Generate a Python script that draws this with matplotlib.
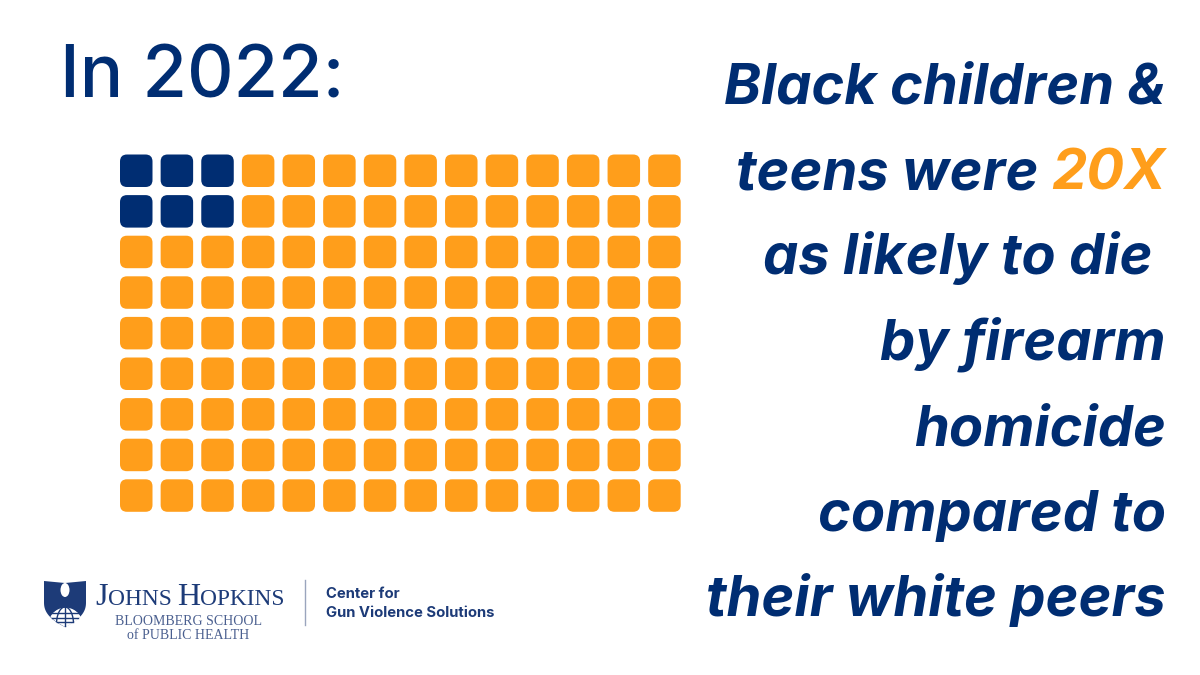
import matplotlib
matplotlib.use("Agg")
import matplotlib.pyplot as plt
import numpy as np
from matplotlib.patches import FancyBboxPatch, Polygon, Ellipse
from matplotlib.path import Path

NAVY = "#002d72"
LOGO = "#1d3b78"
SUB = "#4a5f8f"
ORANGE = "#ff9e1b"
FONT = "Inter"

n_rows = 9
n_cols = 14
navy_rows = 2
navy_cols = 3

title = "In 2022:"
lines = [
    [("Black children &", NAVY)],
    [("teens were ", NAVY), ("20X", ORANGE)],
    [("as likely to die ", NAVY)],
    [("by firearm", NAVY)],
    [("homicide", NAVY)],
    [("compared to", NAVY)],
    [("their white peers", NAVY)],
]
line_y = [103, 189, 274, 360, 445, 531, 616]

fig = plt.figure(figsize=(12, 6.75), dpi=100)
ax = fig.add_axes([0, 0, 1, 1])
ax.set_xlim(0, 1200)
ax.set_ylim(675, 0)
ax.axis("off")

x0, y0, pitch_x, pitch_y, size = 120, 154.5, 40.63, 40.6, 32.5
for r in range(n_rows):
    for c in range(n_cols):
        col = NAVY if (r < navy_rows and c < navy_cols) else ORANGE
        rad = 7
        ax.add_patch(FancyBboxPatch(
            (x0 + c * pitch_x + rad, y0 + r * pitch_y + rad),
            size - 2 * rad, size - 2 * rad,
            boxstyle=f"round,pad={rad},rounding_size={rad}",
            fc=col, ec="none"))

ax.text(60, 98, title, fontsize=52, fontfamily=FONT, color=NAVY, va="baseline", ha="left", fontweight="medium")

renderer = fig.canvas.get_renderer()
for parts, y in zip(lines, line_y):
    x = 1166
    for s, col in reversed(parts):
        t = ax.text(x, y, s, fontsize=40.3, fontfamily=FONT, fontweight="bold", fontstyle="italic",
                    color=col, ha="right", va="baseline")
        x -= t.get_window_extent(renderer).width

# logo: shield
cx = 65
th = np.linspace(0, 1, 40)
half = 21 * (1 - th**2.4)
yy = 602 + 25 * th
right = np.c_[cx + half, yy]
left = np.c_[cx - half, yy]
shield = np.vstack([[[44, 581]], [[cx, 583]], [[86, 581]], right, left[::-1]])
ax.add_patch(Polygon(shield, fc=LOGO, ec="none", zorder=2))

# logo: globe, a white dome that follows the lower edge of the shield
gy, gr = 624, 17
ang = np.linspace(np.pi, 2 * np.pi, 60)
dome = np.c_[cx + gr * np.cos(ang), gy + gr * np.sin(ang)]
shield_path = Path(shield)
globe_path = Path(np.vstack([dome, [[cx, 630]]]))
def in_globe(p):
    return shield_path.contains_points(p, radius=-0.5) & globe_path.contains_points(p)
gx, gyy = np.meshgrid(np.arange(40, 90, 0.25), np.arange(600, 630, 0.25))
mask = in_globe(np.c_[gx.ravel(), gyy.ravel()]).reshape(gx.shape)
top = np.array([gyy[:, i][mask[:, i]].min() if mask[:, i].any() else np.nan for i in range(gx.shape[1])])
bot = np.array([gyy[:, i][mask[:, i]].max() if mask[:, i].any() else np.nan for i in range(gx.shape[1])])
ax.fill_between(gx[0], top, bot, where=~np.isnan(top), color="white", lw=0, zorder=3)
def clipped(xs, ys):
    ok = in_globe(np.c_[xs, ys])
    ax.plot(np.where(ok, xs, np.nan), ys, color=LOGO, lw=1, zorder=4)
s = np.linspace(600, 630, 120)
for k in (-0.5, 0, 0.5):
    clipped(cx + k * gr * np.sqrt(np.clip(1 - ((s - gy) / gr) ** 2, 0, 1)), s)
h = np.linspace(40, 90, 200)
for y in (613, 618, 622):
    clipped(h, np.full_like(h, y))
ax.add_patch(Ellipse((cx, 590), 9, 14, fc="white", ec="none", zorder=3))

# logo: wordmark in small capitals
wx = 95
for s_, fs in [("J", 23), ("OHNS ", 16.8), ("H", 23), ("OPKINS", 16.8)]:
    t = ax.text(wx, 605, s_, fontsize=fs, fontfamily="Liberation Serif", color=LOGO, va="baseline", ha="left")
    wx += t.get_window_extent(renderer).width
ax.text(188.5, 625, "BLOOMBERG SCHOOL", fontsize=10, fontfamily="Liberation Serif", color=SUB, va="baseline", ha="center")
ax.text(188.5, 639, "of PUBLIC HEALTH", fontsize=10, fontfamily="Liberation Serif", color=SUB, va="baseline", ha="center")
ax.plot([305, 305], [580, 625], color="#9aa5bd", lw=1.0)
ax.text(326, 598, "Center for", fontsize=10.7, fontfamily=FONT, fontweight="bold", color=LOGO, va="baseline")
ax.text(326, 617, "Gun Violence Solutions", fontsize=10.7, fontfamily=FONT, fontweight="bold", color=LOGO, va="baseline")

ax.set_xlim(0, 1200)
ax.set_ylim(675, 0)
fig.savefig("out.png", dpi=100, facecolor="white")
